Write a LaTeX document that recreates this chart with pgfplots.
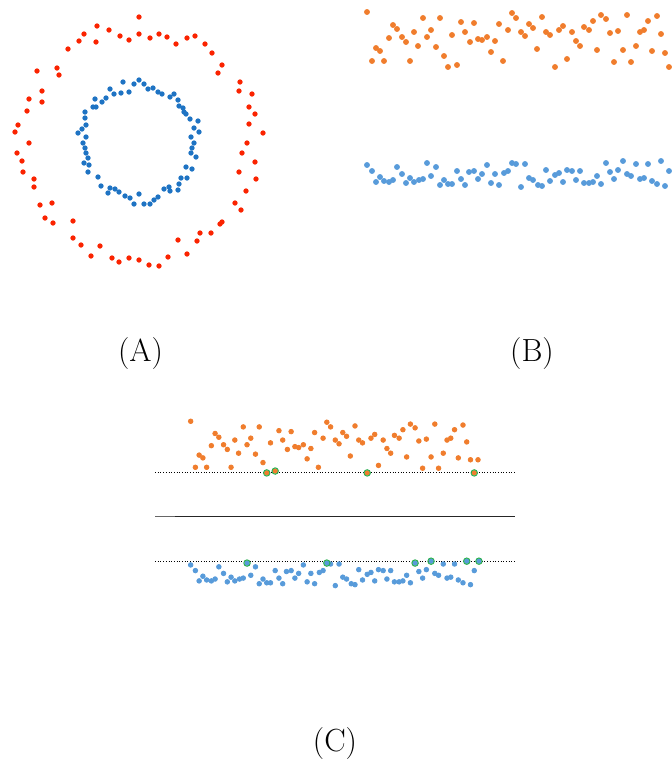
\documentclass[border=0pt]{standalone}
\usepackage{pgfplots}
\pgfplotsset{compat=1.18}
\usepackage{pgfplotstable}
\definecolor{ared}{RGB}{250,35,0}
\definecolor{ablue}{RGB}{30,115,195}
\definecolor{borange}{RGB}{240,125,45}
\definecolor{bblue}{RGB}{88,155,218}
\definecolor{svgreen}{RGB}{40,175,80}

\pgfplotstableread{
x y
139 17
97 26
109 30
84 34
120 36
139 34
159 34
167 37
150 38
129 40
79 41
96 42
187 38
195 36
176 44
205 44
68 49
212 53
222 65
57 68
218 73
37 71
59 75
240 82
42 91
239 91
252 94
29 99
42 102
249 107
27 111
255 114
18 125
249 124
15 132
263 133
29 143
247 143
17 153
242 153
22 161
255 162
23 172
239 172
34 179
256 179
34 187
246 191
40 205
52 203
235 203
241 210
45 218
53 223
73 221
222 222
220 224
211 233
200 233
73 238
178 240
197 241
81 245
100 246
187 254
91 256
168 257
112 258
129 258
139 260
119 262
149 265
159 266
}\outerring

\pgfplotstableread{
x y
139 80
123 82
134 84
144 84
110 89
148 89
153 88
158 92
162 94
129 92
121 93
114 94
174 94
170 97
95 99
106 98
102 102
178 100
96 107
93 107
179 106
183 108
85 112
184 112
186 114
85 118
190 119
198 121
86 125
82 129
194 128
78 133
199 132
86 137
191 137
83 143
194 143
85 148
192 148
86 153
191 153
88 158
196 157
84 163
89 165
186 167
192 169
88 172
98 177
187 178
181 178
101 186
179 184
110 188
115 189
164 189
169 187
108 193
119 192
170 191
178 190
125 196
130 198
139 194
158 197
154 200
134 204
144 204
150 204
}\innerring

\pgfplotstableread{
x y
367 12
372 61
376 48
380 51
384 61
389 38
393 25
397 29
402 37
406 42
410 61
414 32
418 46
423 18
427 37
431 30
436 47
440 18
444 56
448 67
452 35
457 65
461 22
465 32
470 42
474 23
478 39
482 40
487 37
491 52
495 41
499 24
503 61
508 30
512 13
516 18
521 32
525 36
529 24
533 28
537 49
542 17
546 32
550 35
555 67
559 30
563 26
567 59
572 32
576 41
580 46
584 27
589 30
593 21
597 50
601 15
606 19
610 33
614 62
618 31
623 50
627 15
631 62
636 46
640 32
644 30
648 21
652 51
657 16
661 34
665 53
669 67
673 53
}\orangeset

\pgfplotstableread{
x y
367 165
372 171
376 182
380 177
384 181
389 182
393 180
397 167
402 174
406 183
410 178
414 182
419 180
423 179
427 163
431 176
436 167
440 185
444 180
448 184
452 184
457 171
461 179
465 185
469 172
474 171
478 179
482 174
487 165
491 183
495 174
499 185
504 173
508 171
512 163
516 164
521 187
525 164
529 178
533 180
538 185
542 186
546 170
550 181
555 175
559 173
563 182
567 170
572 171
576 180
580 171
584 183
589 183
593 182
597 176
601 184
606 163
610 172
614 179
618 170
623 161
627 174
631 176
636 164
640 179
644 178
648 164
652 181
657 184
661 161
665 186
669 171
674 161
}\blueset

\begin{document}
\begin{tikzpicture}
\path[use as bounding box] (0,0) rectangle (335.5pt,-380.5pt);
% Panel A
\begin{axis}[
  at={(0pt,0pt)}, anchor=north west,
  scale only axis, width=140pt, height=140pt,
  xmin=0, xmax=280, ymin=0, ymax=280, y dir=reverse,
  hide axis,
]
\addplot[only marks, mark=*, mark size=1.1pt, color=ared, mark options={draw=ared, fill=ared}] table {\outerring};
\addplot[only marks, mark=*, mark size=1.1pt, color=ablue, mark options={draw=ablue, fill=ablue}] table {\innerring};
\end{axis}
% Panel B
\begin{axis}[
  at={(180pt,0pt)}, anchor=north west,
  scale only axis, width=155.5pt, height=105pt,
  xmin=360, xmax=671, ymin=0, ymax=210, y dir=reverse,
  hide axis,
]
\addplot[only marks, mark=*, mark size=1.25pt, color=borange, mark options={draw=borange, fill=borange}] table {\orangeset};
\addplot[only marks, mark=*, mark size=1.25pt, color=bblue, mark options={draw=bblue, fill=bblue}] table {\blueset};
\end{axis}
% Panel C
\begin{axis}[
  at={(77.5pt,-200.3pt)}, anchor=north west,
  scale only axis, width=180pt, height=98.6pt,
  xmin=329, xmax=712.4, ymin=-10, ymax=200, y dir=reverse,
  hide axis, clip=false,
]
\addplot[black, densely dotted, line width=0.35pt] coordinates {(329,66.3) (712.4,66.3)};
\addplot[black, densely dotted, line width=0.35pt] coordinates {(329,161.1) (712.4,161.1)};
\addplot[black!60, line width=0.75pt] coordinates {(329,113.6) (350.3,113.6)};
\addplot[black!85, line width=0.75pt] coordinates {(350.3,113.6) (712.4,113.6)};
\addplot[only marks, mark=*, mark size=1.15pt, color=borange, mark options={draw=borange, fill=borange}] table {\orangeset};
\addplot[only marks, mark=*, mark size=1.15pt, color=bblue, mark options={draw=bblue, fill=bblue}] table {\blueset};
\addplot[only marks, mark=o, mark size=1.6pt, mark options={draw=svgreen, line width=0.5pt}] coordinates {(448,67) (457,65) (555,67) (669,67)};
\addplot[only marks, mark=o, mark size=1.6pt, mark options={draw=svgreen, line width=0.5pt}] coordinates {(427,163) (512,163) (606,163) (623,161) (661,161) (674,161)};
\end{axis}
% Labels
\node[anchor=base, font=\fontsize{16}{19}\selectfont, inner sep=0pt] at (70.25pt,-180.8pt) {(A)};
\node[anchor=base, font=\fontsize{16}{19}\selectfont, inner sep=0pt] at (266pt,-180.8pt) {(B)};
\node[anchor=base, font=\fontsize{16}{19}\selectfont, inner sep=0pt] at (167.5pt,-375.8pt) {(C)};
\end{tikzpicture}
\end{document}
